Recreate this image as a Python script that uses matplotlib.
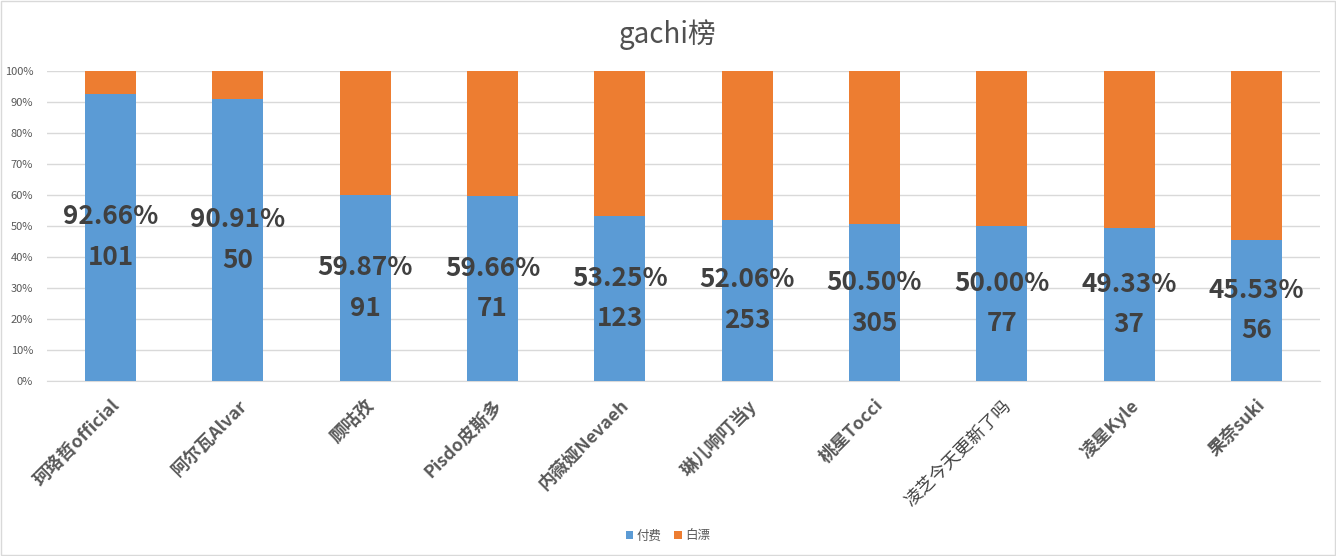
import matplotlib
matplotlib.use("Agg")
import matplotlib.pyplot as plt
from matplotlib.patches import Rectangle
from matplotlib.ticker import PercentFormatter
import numpy as np

plt.rcParams['font.family'] = ['Noto Sans CJK SC', 'DejaVu Sans']

categories = ["珂珞哲official", "阿尔瓦Alvar", "顾咕孜", "Pisdo皮斯多", "内薇娅Nevaeh",
              "琳儿响叮当y", "桃星Tocci", "凌芝今天更新了吗", "凌星Kyle", "果奈suki"]
paid = [101, 50, 91, 71, 123, 253, 305, 77, 37, 56]
free = [8, 5, 61, 48, 108, 233, 299, 77, 38, 67]
series_names = ["付费", "白漂"]
title = "gachi榜"

paid_a = np.array(paid, dtype=float)
free_a = np.array(free, dtype=float)
total = paid_a + free_a
paid_pct = paid_a / total * 100
free_pct = free_a / total * 100

blue = "#5B9BD5"
orange = "#ED7D31"
gray_text = "#595959"
label_color = "#404040"

fig = plt.figure(figsize=(13.36, 5.56), dpi=100)
ax = fig.add_axes([47 / 1336, 1 - 381 / 556, 1273 / 1336, 310 / 556])

x = np.arange(len(categories))
w = 0.4
ax.bar(x, paid_pct, width=w, color=blue, label=series_names[0], zorder=3)
ax.bar(x, free_pct, width=w, bottom=paid_pct, color=orange, label=series_names[1], zorder=3)

for xi, p, n in zip(x, paid_pct, paid):
    ax.text(xi, p / 2, f"{p:.2f}%\n{n}", ha='center', va='center',
            fontsize=18.8, color=label_color, linespacing=1.66, fontweight='bold',
            family=['Noto Sans CJK SC', 'DejaVu Sans'], zorder=4)

ax.set_xlim(-0.5, len(categories) - 0.5)
ax.set_ylim(0, 100)
ax.set_yticks(np.arange(0, 101, 10))
ax.yaxis.set_major_formatter(PercentFormatter(decimals=0))
ax.grid(axis='y', color='#D9D9D9', linewidth=1, zorder=0)
for s in ['top', 'right', 'left']:
    ax.spines[s].set_visible(False)
ax.spines['bottom'].set_color('#D9D9D9')
ax.tick_params(axis='y', length=0, labelsize=8, labelcolor=gray_text, pad=10)
ax.tick_params(axis='x', length=0, pad=11)
ax.set_xticks(x)
ax.set_xticklabels(categories, rotation=45, ha='right', rotation_mode='anchor',
                   fontsize=12.8, fontweight='bold', color=gray_text)
for lbl in ax.get_xticklabels():
    if lbl.get_text() == "凌芝今天更新了吗":
        lbl.set_fontweight('normal')
        lbl.set_color('#404040')

fig.text(0.5, 1 - 35 / 556, title, ha='center', va='center', fontsize=20,
         color='#505050')

leg = fig.legend(loc='center', bbox_to_anchor=(0.5, 1 - 536 / 556), ncol=2, frameon=False,
                 fontsize=9, handlelength=0.6, handleheight=0.6, handletextpad=0.3,
                 columnspacing=1.0)
for t in leg.get_texts():
    t.set_color(gray_text)

fig.patches.append(Rectangle((0.001, 0.001), 0.998, 0.997, transform=fig.transFigure,
                             fill=False, edgecolor='#D9D9D9', linewidth=1))

fig.savefig("out.png", dpi=100, facecolor='white')
